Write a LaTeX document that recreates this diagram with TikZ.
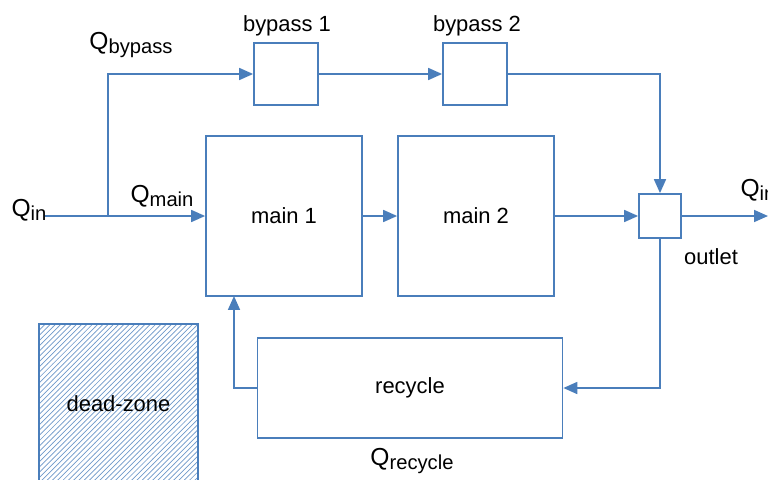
\documentclass[tikz,border=0pt]{standalone}
\usepackage{fontspec}
\setmainfont{Liberation Sans}
\usetikzlibrary{arrows.meta,patterns,positioning}

\definecolor{pipe}{RGB}{74,126,187}
\newcommand{\flow}[1]{{\fontsize{14}{14}\selectfont Q}\raisebox{-0.35ex}{\fontsize{11.5}{11.5}\selectfont #1}}

\begin{document}
\begin{tikzpicture}[x=0.02cm,y=-0.02cm,
    tank/.style={draw=pipe,line width=1pt,inner sep=0pt,minimum width=3.12cm,minimum height=3.2cm},
    smalltank/.style={draw=pipe,line width=1pt,inner sep=0pt,minimum width=1.28cm,minimum height=1.24cm},
    pipeline/.style={pipe,line width=1pt,-{Triangle[length=0.28cm,width=0.24cm]}},
    lbl/.style={font=\fontsize{12.5}{14}\selectfont,inner sep=0pt}]

    \useasboundingbox (0,0) rectangle (768,480);

    % Reattori
    \node[tank,lbl] (main1) at (284,216) {main 1};
    \node[tank,lbl] (main2) at (476,216) {main 2};
    \node[smalltank] (bypass1) at (286,74) {};
    \node[smalltank] (bypass2) at (475,74) {};
    \node[draw=pipe,line width=1pt,minimum width=0.84cm,minimum height=0.88cm] (outlet) at (660,216) {};
    \node[tank,lbl,minimum width=6.1cm,minimum height=2cm] (recycle) at (410,388) {recycle};

    % Zona morta
    \node[draw=pipe,line width=1pt,pattern=north east lines,pattern color=pipe!80,
          minimum width=3.18cm,minimum height=3.2cm,lbl] (dead) at (118.5,404) {dead-zone};

    % Punti ausiliari
    \coordinate (in) at (45,216);
    \coordinate (split) at (108,216);
    \coordinate (out) at (768,216);
    \coordinate (back) at (234,296);

    % Linee di flusso
    \draw[pipeline] (in) -- (main1.west);
    \draw[pipeline] (split) |- (bypass1.west);
    \draw[pipeline] (bypass1) -- (bypass2);
    \draw[pipeline] (bypass2.east) -| (outlet.north);
    \draw[pipeline] (main1) -- (main2);
    \draw[pipeline] (main2) -- (outlet);
    \draw[pipeline] (outlet) -- (out);
    \draw[pipeline] (outlet.south) |- (recycle.east);
    \draw[pipeline] (recycle.west) -| (back);

    % Etichette
    \node[lbl] (lin) at (29,210) {\flow{in}};
    \node[lbl] (lmain) at (162,196) {\flow{main}};
    \node[lbl] (lbypass) at (131,45) {\flow{bypass}};
    \node[lbl] (lrecycle) at (412,461) {\flow{recycle}};
    \node[lbl] (lout) at (758,190) {\flow{in}};
    \node[lbl] (lb1) at (287,26) {bypass 1};
    \node[lbl] (lb2) at (477,26) {bypass 2};
    \node[lbl] (lo) at (711,257) {outlet};

\end{tikzpicture}
\end{document}
